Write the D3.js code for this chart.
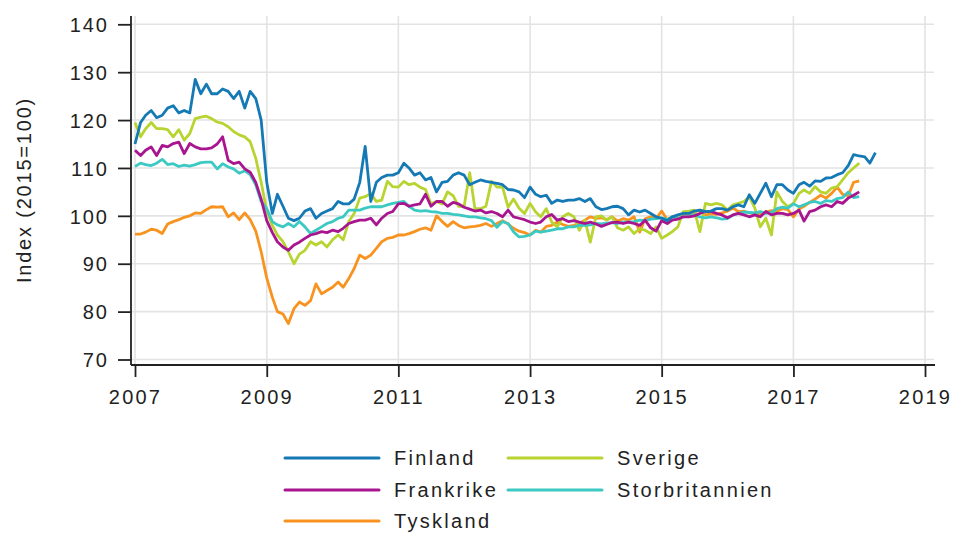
<!DOCTYPE html>
<html>
<head>
<meta charset="utf-8">
<script src="https://cdn.jsdelivr.net/npm/d3@7"></script>
<style>
  body { margin: 0; background: #fff; }
  text { font-family: "Liberation Sans", Arial, sans-serif; fill: #222; }
</style>
</head>
<body>
<svg id="chart" width="957" height="534"></svg>
<script>
// monthly index values from 2007-01, 2015=100
var finland = [
  115, 119.5, 121, 122, 120.5, 121, 122.5, 123, 121.5, 122, 121.5, 128.5,
  125.5, 127.5, 125.5, 125.5, 126.5, 126, 124.5, 126, 122.5, 126, 124.5, 120,
  107, 100.5, 104.5, 102, 99.5, 99, 99.5, 101, 101.5, 99.5, 100.5, 101,
  101.5, 103, 102.5, 102.5, 103.5, 107, 114.5, 103, 107, 108, 108.5, 108.5,
  109, 111, 110, 108.5, 109, 107.5, 108, 105, 107, 107.2, 108.5, 109,
  108.5, 106.5, 107, 107.5, 107.2, 107, 106.8, 106.5, 105.5, 105.4, 105, 103.8,
  106, 104.5, 104, 104.3, 102.6, 103.3, 103, 103.3, 103.3, 103.6, 103, 103.6,
  101.9, 101.3, 101.5, 101.9, 102, 101.5, 100.2, 101.2, 100.8, 101.2, 100.5, 99.8,
  99.5, 99, 99.8, 100.2, 100.5, 100.5, 101, 101.2, 100.9, 101, 101.5, 101.5,
  101.2, 101.9, 102.3, 101.9, 104.4, 102.6, 104.7, 106.8, 104, 106.5, 106.5, 105.4,
  104.7, 106.5, 107, 106.2, 107.3, 107.2, 107.9, 108, 108.6, 109, 110.5, 112.8,
  112.5, 112.3, 111, 113.2
];
var frankrike = [
  113.7, 112.6, 113.7, 114.4, 112.6, 114.7, 114.4, 115.1, 115.4, 113, 115.1, 114.4,
  114, 114, 114.2, 115, 116.5, 111.6, 110.9, 111.2, 109.8, 109.1, 107, 103.5,
  99, 96.5, 94.6, 93.5, 92.8, 93.9, 94.5, 95.3, 96, 96.3, 96.7, 96.5,
  97, 96.7, 97.4, 98.4, 98.8, 99.1, 99.1, 99.5, 98.1, 99.5, 100.5, 100.9,
  102.5, 102.6, 102, 102.3, 102.5, 104.5, 102, 103, 103, 102, 102.8, 102.5,
  101.8, 101.4, 101, 101.2, 100.6, 100.9, 100.5, 99.8, 101.2, 99.8, 99.5, 99.2,
  98.7, 98.4, 98.7, 99.8, 100.3, 99.1, 99.4, 98.8, 99, 98.7, 98.4, 98.7,
  98.3, 97.8, 98.2, 98.6, 98.7, 98.4, 98.7, 98.4, 98, 99.1, 97.5, 96.8,
  99, 98.4, 99.1, 99.3, 99.8, 99.8, 100, 100.5, 100.9, 100.9, 100.5, 100.2,
  99.6, 100.2, 100.5, 100.2, 99.8, 100.2, 99.8, 100.9, 100.2, 100.5, 100.5, 100.2,
  100.5, 101.2, 98.9, 100.9, 101.2, 101.9, 102.3, 101.9, 103, 102.6, 103.7, 104.3,
  105
];
var tyskland = [
  96.2, 96.2, 96.6, 97.2, 97, 96.3, 98.3, 98.8, 99.2, 99.7, 100, 100.6,
  100.5, 101.3, 101.9, 101.8, 101.9, 99.8, 100.6, 99.2, 100.6, 99.2, 96.8, 92.5,
  87, 83, 80, 79.5, 77.5, 80.6, 82, 81.3, 82.3, 85.8, 83.7, 84.4,
  85.1, 86.2, 85.1, 86.9, 89, 91.8, 91.1, 91.8, 93.2, 94.6, 95.3, 95.5,
  96, 96, 96.3, 96.7, 97.2, 97.5, 97, 100, 98.8, 97.8, 98.8, 98,
  97.5, 97.7, 97.8, 98, 98.4, 97.8, 98.4, 99, 98.3, 97.4, 96.8, 96.5,
  96, 97, 96.6, 97.8, 98, 98.7, 98.2, 97.8, 98, 98.4, 99.1, 99.8,
  99.5, 99.6, 99.2, 99.8, 98.9, 99.4, 99.1, 99.8, 96.6, 99.4, 99.8, 99.5,
  101, 99.2, 99.8, 100.1, 100.4, 100.5, 100.8, 101.2, 100.2, 100.4, 100.3, 100.6,
  101, 101.6, 100.9, 101, 100.6, 100.5, 100.4, 100.8, 101.1, 100.9, 101.5, 101.3,
  99.8, 101.4, 102, 102.8, 103.5, 104.3, 103.7, 104.7, 106, 104.5, 104.2, 107,
  107.3
];
var sverige = [
  119.5, 116.5, 118.2, 119.5, 118.2, 118.2, 118, 116.5, 118, 115.8, 117.2, 120.3,
  120.6, 120.8, 120.3, 119.6, 119.3, 118.6, 117.6, 116.9, 116.5, 115.5, 112, 107,
  101, 98, 96, 94.6, 92.5, 90, 92, 92.8, 94.6, 93.9, 94.6, 93.5,
  95, 96, 95, 98.8, 100.5, 103.7, 104, 104.7, 103, 103.3, 107.2, 106.1,
  106, 107.2, 106.5, 106.8, 106, 105.5, 102.5, 103, 102.5, 105, 104.2, 102,
  102, 109, 101.5, 101.5, 102, 107.2, 106, 106, 101.8, 103.5, 101.6, 100.5,
  102.6, 100.8, 99.8, 101.5, 98.7, 97.7, 99.8, 100.5, 99.8, 97, 99.1, 94.5,
  99.8, 100, 99.1, 99.8, 97.5, 97, 97.7, 96.3, 97.3, 97, 96.3, 97.7,
  95.3, 96, 96.7, 97.7, 100.9, 101, 101.2, 96.7, 102.6, 102.3, 102.6, 102.3,
  101.2, 102.3, 102.6, 103, 104, 101.6, 97.7, 99.5, 96, 105, 103, 101.9,
  102.6, 104.7, 105.4, 104.7, 106.1, 105, 104.7, 105.8, 106.1, 107.5, 109, 110,
  111
];
var storbritannien = [
  110.3, 111, 110.7, 110.5, 111, 111.8, 110.7, 110.9, 110.3, 110.6, 110.4, 110.7,
  111.1, 111.2, 111.2, 109.8, 110.9, 110.2, 109.8, 108.9, 109.4, 108.6, 106.5, 103,
  101.5, 98.8, 98.1, 97.7, 98.4, 97.7, 98.8, 97.7, 96.3, 97, 97.7, 98.4,
  98.8, 99.5, 99.8, 101.2, 101.2, 101.2, 101.6, 101.9, 101.9, 101.9, 102.3, 102.6,
  102.8, 103, 102, 101.2, 101, 101.1, 100.9, 100.8, 100.5, 100.5, 100.3, 100.2,
  100, 99.8, 99.8, 99.6, 99.4, 99, 97.6, 98.8, 98.4, 96.7, 95.6, 95.7,
  96, 96.8, 96.6, 96.8, 97, 97.3, 97.3, 97.7, 97.7, 98, 98, 98.1,
  98.4, 98.3, 98.5, 98.6, 98.4, 98.7, 98.7, 98.8, 99.1, 99, 99.3, 99.4,
  99.6, 99.2, 99.8, 99.5, 99.8, 99.9, 100.2, 99.8, 99.6, 99.8, 99.6, 99.3,
  99.4, 100.2, 100.5, 100.8, 100.7, 100.6, 100.9, 100.5, 100.7, 101.5, 101.8, 101.6,
  102.5, 101.9, 102.3, 102.8, 103, 102.6, 103.2, 103, 103.6, 103.8, 105, 103.8,
  104
];

var seriesNames = ["Finland", "Frankrike", "Tyskland", "Sverige", "Storbritannien"];
var seriesColors = ["#1479b4", "#a8158f", "#f7931e", "#b7d431", "#3cc9c4"];
var seriesValues = [finland, frankrike, tyskland, sverige, storbritannien];
var yTicks = [70, 80, 90, 100, 110, 120, 130, 140];
var xTickYears = [2007, 2009, 2011, 2013, 2015, 2017, 2019];

var svg = d3.select("#chart");

var plot = {left: 131, right: 934, top: 16, bottom: 365};

var xScale = d3.scaleTime()
    .domain([new Date(2007, 0, 1), new Date(2019, 0, 1)])
    .range([135, 925]);
var yScale = d3.scaleLinear()
    .domain([70, 140])
    .range([359.5, 24.3]);

// grid
var grid = svg.append("g").attr("class", "grid");
grid.selectAll(".hgrid")
    .data(yTicks)
    .enter().append("line")
    .attr("x1", plot.left).attr("x2", plot.right)
    .attr("y1", function(d){ return yScale(d); })
    .attr("y2", function(d){ return yScale(d); })
    .attr("stroke", "#e3e3e3").attr("stroke-width", 1.6);
grid.selectAll(".vgrid")
    .data(xTickYears)
    .enter().append("line")
    .attr("x1", function(d){ return xScale(new Date(d, 0, 1)); })
    .attr("x2", function(d){ return xScale(new Date(d, 0, 1)); })
    .attr("y1", plot.top).attr("y2", plot.bottom)
    .attr("stroke", "#e3e3e3").attr("stroke-width", 1.6);

// lines
var line = d3.line()
    .x(function(d, i){ return xScale(new Date(2007, i, 1)); })
    .y(function(d){ return yScale(d); });

var linesG = svg.append("g");
// draw in order so Finland ends up on top like the reference
[2, 3, 4, 1, 0].forEach(function(k){
    linesG.append("path")
        .datum(seriesValues[k])
        .attr("d", line)
        .attr("fill", "none")
        .attr("stroke", seriesColors[k])
        .attr("stroke-width", 2.8)
        .attr("stroke-linejoin", "round");
});

// y axis
var yAxis = svg.append("g")
    .attr("transform", "translate(" + plot.left + ",0)")
    .call(d3.axisLeft(yScale).tickValues(yTicks).tickSize(13).tickPadding(9));
yAxis.select(".domain")
    .attr("d", "M0," + plot.top + "V" + plot.bottom);
yAxis.selectAll("line, .domain").attr("stroke", "#222").attr("stroke-width", 1.8);
yAxis.selectAll("text")
    .style("font-size", "20px")
    .style("letter-spacing", "2px")
    .style("fill", "#222")
    .attr("dy", "0.36em");

// x axis
var xAxis = svg.append("g")
    .attr("transform", "translate(0," + plot.bottom + ")")
    .call(d3.axisBottom(xScale)
        .tickValues(xTickYears.map(function(y){ return new Date(y, 0, 1); }))
        .tickFormat(d3.timeFormat("%Y"))
        .tickSize(12).tickPadding(13));
xAxis.select(".domain")
    .attr("d", "M" + plot.left + ",0H" + (plot.right + 1));
xAxis.selectAll("line, .domain").attr("stroke", "#222").attr("stroke-width", 1.8);
xAxis.selectAll("text")
    .style("font-size", "20px")
    .style("letter-spacing", "2.2px")
    .style("fill", "#222");

// axis title
svg.append("text")
    .attr("transform", "translate(31,190) rotate(-90)")
    .style("text-anchor", "middle")
    .style("font-size", "20px")
    .style("letter-spacing", "1.8px")
    .text("Index (2015=100)");

// legend
var legendPos = [
    {x: 285, y: 458}, {x: 285, y: 490}, {x: 285, y: 521},
    {x: 508, y: 458}, {x: 508, y: 490}
];
var legend = svg.append("g");
seriesNames.forEach(function(name, k){
    var p = legendPos[k];
    legend.append("line")
        .attr("x1", p.x).attr("x2", p.x + 94)
        .attr("y1", p.y).attr("y2", p.y)
        .attr("stroke", seriesColors[k])
        .attr("stroke-width", 3)
        .attr("stroke-linecap", "round");
    legend.append("text")
        .attr("x", p.x + 109)
        .attr("y", p.y)
        .attr("dy", "0.36em")
        .style("font-size", "20px")
        .style("letter-spacing", "2.3px")
        .text(name);
});
</script>
</body>
</html>
